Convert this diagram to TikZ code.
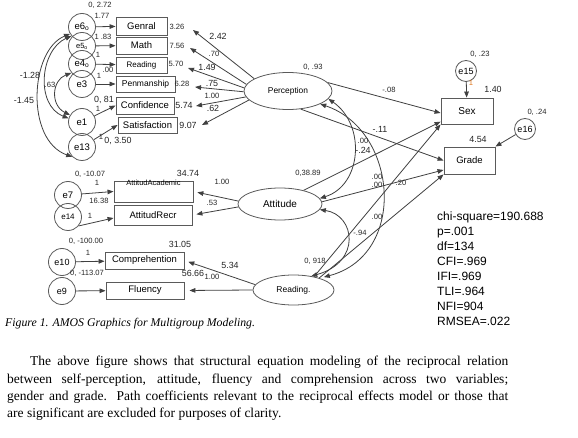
\documentclass[tikz,border=0pt]{standalone}
\usepackage{fontspec}
\setmainfont{Liberation Serif}
\newfontfamily\arialfam{Liberation Sans}
\usetikzlibrary{arrows.meta,shapes.geometric,calc}
\newcommand\fsz[1]{\fontsize{#1}{#1}\selectfont}
\definecolor{amosline}{HTML}{404040}
\definecolor{amosbox}{HTML}{5A5A5A}
\definecolor{fixone}{HTML}{E07820}
\tikzset{
  errc/.style={circle,draw=amosbox,line width=0.8pt,inner sep=0pt,minimum size=27pt,font=\arialfam\fsz{9.5}},
  obsbox/.style={rectangle,draw=amosbox,line width=0.9pt,inner sep=0pt,font=\arialfam\fsz{9.5}},
  latent/.style={ellipse,draw=amosbox,line width=0.8pt,inner sep=0pt},
  num/.style={inner sep=0pt,font=\arialfam\fsz{7.6},text=black!85},
  coef/.style={inner sep=0pt,font=\arialfam\fsz{8.9},text=black!85},
  reg/.style={draw=amosline,line width=0.8pt,-{Triangle[length=6pt,width=4.6pt]}},
  cov/.style={draw=amosline,line width=0.8pt,{Triangle[length=6pt,width=4.6pt]}-{Triangle[length=6pt,width=4.6pt]}},
  partext/.style={anchor=base west,inner sep=0pt,font=\fsz{13.5}},
}
\begin{document}
\begin{tikzpicture}[x=1pt,y=-1pt]
\fill[white] (0,0) rectangle (578,438);
\useasboundingbox (0,0) rectangle (578,438);

% perception indicators
\node[errc] (e6) at (82,27) {e6\textsubscript{o}};
\node[errc,font=\arialfam\fsz{7.5}] (e5) at (82,46) {e5\textsubscript{o}};
\node[errc] (e4) at (82,64) {e4\textsubscript{o}};
\node[errc] (e3) at (82,84) {e3};
\node[errc] (e1) at (82,122) {e1};
\node[errc] (e13) at (82,147) {e13};
\node[obsbox,minimum width=51pt,minimum height=18pt] (genral) at (141.5,26) {Genral};
\node[obsbox,minimum width=51pt,minimum height=17pt] (math) at (141.5,45.5) {Math};
\node[obsbox,minimum width=51pt,minimum height=16pt,font=\arialfam\fsz{8}] (readbox) at (141.5,65) {Reading};
\node[obsbox,minimum width=59pt,minimum height=16pt,font=\arialfam\fsz{8.5}] (penman) at (145.5,84) {Penmanship};
\node[obsbox,minimum width=58pt,minimum height=17pt] (confid) at (145,105.5) {Confidence};
\node[obsbox,minimum width=59pt,minimum height=16pt] (satisf) at (147.5,125) {Satisfaction};

% latent variables
\node[latent,minimum width=88pt,minimum height=37pt,font=\arialfam\fsz{8.4}] (perc) at (288,91) {Perception};
\node[latent,minimum width=84pt,minimum height=32pt,font=\arialfam\fsz{10}] (att) at (280,204) {Attitude};
\node[latent,minimum width=81pt,minimum height=30pt,font=\arialfam\fsz{8.5}] (readlat) at (293.5,290) {Reading.};

% outcomes
\node[obsbox,minimum width=52pt,minimum height=26pt,font=\arialfam\fsz{10}] (sex) at (467,111) {Sex};
\node[obsbox,minimum width=51pt,minimum height=27pt] (grade) at (469.5,160.5) {Grade};
\node[errc,minimum size=21pt,font=\arialfam\fsz{9}] (e15) at (466,71) {e15};
\node[errc,minimum size=21pt,font=\arialfam\fsz{9}] (e16) at (525,129) {e16};

% attitude indicators
\node[obsbox,minimum width=79pt,minimum height=21pt,label={[font=\arialfam\fsz{7.5},anchor=center,yshift=-2.5pt]north:AttitudAcademic}] (acad) at (153.5,191.5) {};
\node[obsbox,minimum width=78pt,minimum height=20pt] (recr) at (153,215) {AttitudRecr};
\node[errc] (e7) at (68,195) {e7};
\node[errc,font=\arialfam\fsz{8}] (e14) at (68,217) {e14};

% reading indicators
\node[obsbox,minimum width=79pt,minimum height=17pt] (comp) at (144.5,260.5) {Comprehention};
\node[obsbox,minimum width=78pt,minimum height=17pt] (fluen) at (145,290.5) {Fluency};
\node[errc,font=\arialfam\fsz{9}] (e10) at (62,262) {e10};
\node[errc,font=\arialfam\fsz{9}] (e9) at (62,291) {e9};

% error paths
\draw[reg] (e6) -- (genral);
\draw[reg] (e5) -- (math);
\draw[reg] (e4) -- (readbox);
\draw[reg] (e3) -- (penman);
\draw[reg] (e1) -- (confid.west);
\draw[reg] (e13) -- (satisf.west);
\draw[reg] (e7) -- (acad.west);
\draw[reg] (e14.-40) -- ([yshift=-3pt]recr.west);
\draw[reg] (e10) -- (comp);
\draw[reg] (e9) -- (fluen);
\draw[reg] (e15) -- (sex);
\draw[reg] (e16) -- (grade.north east);

% loadings
\coordinate (tg) at (193,30);
\coordinate (tm) at (190,48);
\coordinate (tr) at (188,68);
\coordinate (tp) at (195,87);
\coordinate (tc) at (196,106);
\coordinate (ts) at (202,125);
\draw[reg] (perc.160) -- (tg);
\draw[reg] (perc.171) -- (tm);
\draw[reg] (perc.176) -- (tr);
\draw[reg] (perc.181) -- (tp);
\draw[reg] (perc.188) -- (tc);
\draw[reg] (perc.193) -- (ts);
\draw[reg,shorten >=4pt] (att.176) -- (acad.east);
\draw[reg,shorten >=4pt] (att.184) -- (recr.east);
\draw[reg,shorten >=4pt] (readlat.172) -- (comp.east);
\draw[reg,shorten >=5pt] (readlat.180) -- (fluen.east);

% structural paths
\draw[reg] (perc.12) -- ([yshift=-2pt]sex.west);
\draw[reg] (perc.-55) -- (grade.west);
\draw[reg] (att.30) -- (sex.202);
\draw[reg] (att.3) -- (grade.200);
\draw[reg] (readlat.33) -- (sex.south west);
\draw[reg] (readlat.25) -- (grade.south west);

% covariances
\draw[cov] (e6.210) .. controls (30,50) and (25,140) .. (e13.225);
\draw[cov] (e6.220) .. controls (40,50) and (35,105) .. (e1.165);
\draw[cov] (e4.220) .. controls (52,80) and (50,105) .. (e1.150);
\draw[cov] (perc.-11) .. controls (366,125) and (362,185) .. (att.8);
\draw[cov] (perc.-22) .. controls (398,130) and (408,255) .. ([xshift=8pt]readlat.30);
\draw[cov] (att.-8) .. controls (355,215) and (362,262) .. (readlat.38);

% estimates
\node[num] (n1) at (100,5) {0, 2.72};
\node[num] (n2) at (102,16) {1.77};
\node[num] (n3) at (103,37) {1 .83};
\node[num] (n4) at (98,55) {1};
\node[num] (n5) at (108,70) {.00};
\node[num] (n6) at (99,76) {1};
\node[coef] (n7) at (104,100) {0, 81};
\node[num] (n8) at (98,109) {1};
\node[num] (n9) at (101,137) {1};
\node[coef] (n10) at (118,141) {0, 3.50};
\node[coef] (n11) at (30,75) {-1.28};
\node[coef] (n12) at (24,100) {-1.45};
\node[num] (n13) at (50,85) {.63};
\node[num] (v1) at (177,27) {3.26};
\node[num] (v2) at (177,46) {7.56};
\node[num] (v3) at (176,64) {5.70};
\node[num] (v4) at (182,84) {6.28};
\node[coef] (v5) at (184,105) {5.74};
\node[coef] (v6) at (188,125) {9.07};
\node[coef] (p1) at (218,36) {2.42};
\node[num] (p2) at (214,54) {.70};
\node[coef] (p3) at (207,67) {1.49};
\node[coef] (p4) at (212,83) {.75};
\node[num] (p5) at (212,96) {1.00};
\node[coef] (p6) at (213,108) {.62};
\node[num] (vperc) at (313,67) {0, .93};
\node[num] (s1) at (389,90) {-.08};
\node[coef] (s2) at (380,129) {-.11};
\node[num] (s3) at (363,141) {.00};
\node[coef] (s4) at (363,150) {-.24};
\node[num] (s5) at (377,177) {.00};
\node[num] (s6) at (377,185) {.00};
\node[num] (s7) at (401,183) {.20};
\node[num] (s8) at (377,217) {.00};
\node[num] (s9) at (360,233) {-.94};
\node[num] (vatt) at (308,173) {0,38.89};
\node[num] (vread) at (315,261) {0, 918};
\node[num] (a1) at (222,182) {1.00};
\node[num] (a2) at (212,203) {.53};
\node[coef] (a3) at (188,173) {34.74};
\node[num] (a4) at (90,174) {0, -10.07};
\node[num] (a5) at (97,183) {1};
\node[num] (a6) at (99,201) {16.38};
\node[num] (a7) at (90,216) {1};
\node[num] (r1) at (86,241) {0, -100.00};
\node[num] (r2) at (88,253) {1};
\node[num] (r3) at (87,273) {0, -113.07};
\node[coef] (r4) at (180,244) {31.05};
\node[coef] (r5) at (193,273) {56.66};
\node[num] (r6) at (212,277) {1.00};
\node[coef] (r7) at (230,265) {5.34};
\node[num] (o1) at (480,54) {0, .23};
\node[num,text=fixone] (o2) at (471,83) {1};
\node[coef] (o3) at (493,89) {1.40};
\node[num] (o4) at (537,112) {0, .24};
\node[coef] (o5) at (478,139) {4.54};

% fit indices
\node[anchor=north west,inner sep=0pt,align=left,font=\arialfam\fontsize{12}{15}\selectfont] (fit) at (437,212) {chi-square=190.688\\p=.001\\df=134\\CFI=.969\\IFI=.969\\TLI=.964\\NFI=904\\RMSEA=.022};

% caption and text
\node[anchor=base west,inner sep=0pt,font=\itshape\fsz{11.8}] (cap) at (5,326) {Figure 1. AMOS Graphics for Multigroup Modeling.};
\node[partext] (par1) at (30,365) {\makebox[478pt][s]{The above figure shows that structural equation modeling of the reciprocal relation}};
\node[partext] (par2) at (7,383) {\makebox[501pt][s]{between self-perception, attitude, fluency and comprehension across two variables;}};
\node[partext] (par3) at (7,400) {\makebox[501pt][s]{gender and grade. Path coefficients relevant to the reciprocal effects model or those that}};
\node[partext] (par4) at (7,417) {are significant are excluded for purposes of clarity.};
\end{tikzpicture}
\end{document}
